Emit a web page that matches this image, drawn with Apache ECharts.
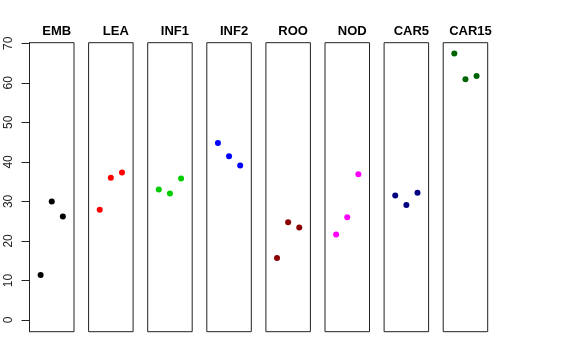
<!DOCTYPE html>
<html><head><meta charset="utf-8">
<script src="https://cdn.jsdelivr.net/npm/echarts@6/dist/echarts.min.js"></script>
<style>html,body{margin:0;padding:0;background:#fff}#c{width:576px;height:360px}</style>
</head><body><div id="c"></div>
<script>
const categories = ["EMB","LEA","INF1","INF2","ROO","NOD","CAR5","CAR15"];
const colors = ["#000000","#FF0000","#00CD00","#0000FF","#8B0000","#FF00FF","#000080","#006400"];
const repX = [1, 2, 3];
const EMB = [11.4, 30.0, 26.2];
const LEA = [27.9, 36.0, 37.3];
const INF1 = [33.0, 32.0, 35.8];
const INF2 = [44.8, 41.4, 39.1];
const ROO = [15.7, 24.7, 23.4];
const NOD = [21.6, 26.0, 36.9];
const CAR5 = [31.5, 29.1, 32.2];
const CAR15 = [67.4, 60.9, 61.7];
const seriesValues = [EMB, LEA, INF1, INF2, ROO, NOD, CAR5, CAR15];
const yTicks = [0, 10, 20, 30, 40, 50, 60, 70];

(function () {
const chart = echarts.init(document.getElementById('c'), null, {renderer: 'canvas'});
const grids = [], xAxes = [], yAxes = [], series = [], titles = [];
const panelLeft = 29.5, panelStep = 59.1, panelW = 44.5, gTop = 42.7, gHeight = 289;
categories.forEach((cat, i) => {
  const left = panelLeft + i * panelStep;
  grids.push({left: left, top: gTop, width: panelW, height: gHeight, show: true,
    borderColor: '#222', borderWidth: 1, backgroundColor: 'transparent', containLabel: false});
  xAxes.push({gridIndex: i, type: 'value', min: 0, max: 4, show: false});
  yAxes.push({gridIndex: i, type: 'value', min: -2.96, max: 70.15,
    show: i === 0,
    axisLine: {show: i === 0, lineStyle: {color: '#222', width: 1}},
    axisTick: {show: i === 0, length: 8, customValues: yTicks, lineStyle: {color: '#222'}},
    axisLabel: {show: i === 0, customValues: yTicks, rotate: 90, margin: 15,
      color: '#222', fontSize: 12, fontFamily: 'Liberation Sans, Arial, sans-serif'},
    splitLine: {show: false}});
  series.push({type: 'scatter', xAxisIndex: i, yAxisIndex: i, symbol: 'circle', symbolSize: 6,
    itemStyle: {color: colors[i], opacity: 1}, silent: true,
    data: seriesValues[i].map((v, k) => [repX[k], v])});
  titles.push({text: cat, left: left + panelW / 2, top: 19.5, textAlign: 'center',
    textStyle: {fontSize: 13, fontWeight: 'bold', color: '#000', fontFamily: 'Liberation Sans, Arial, sans-serif'}});
});
chart.setOption({animation: false, backgroundColor: '#fff', title: titles, grid: grids, xAxis: xAxes, yAxis: yAxes, series: series});
})();
</script></body></html>
